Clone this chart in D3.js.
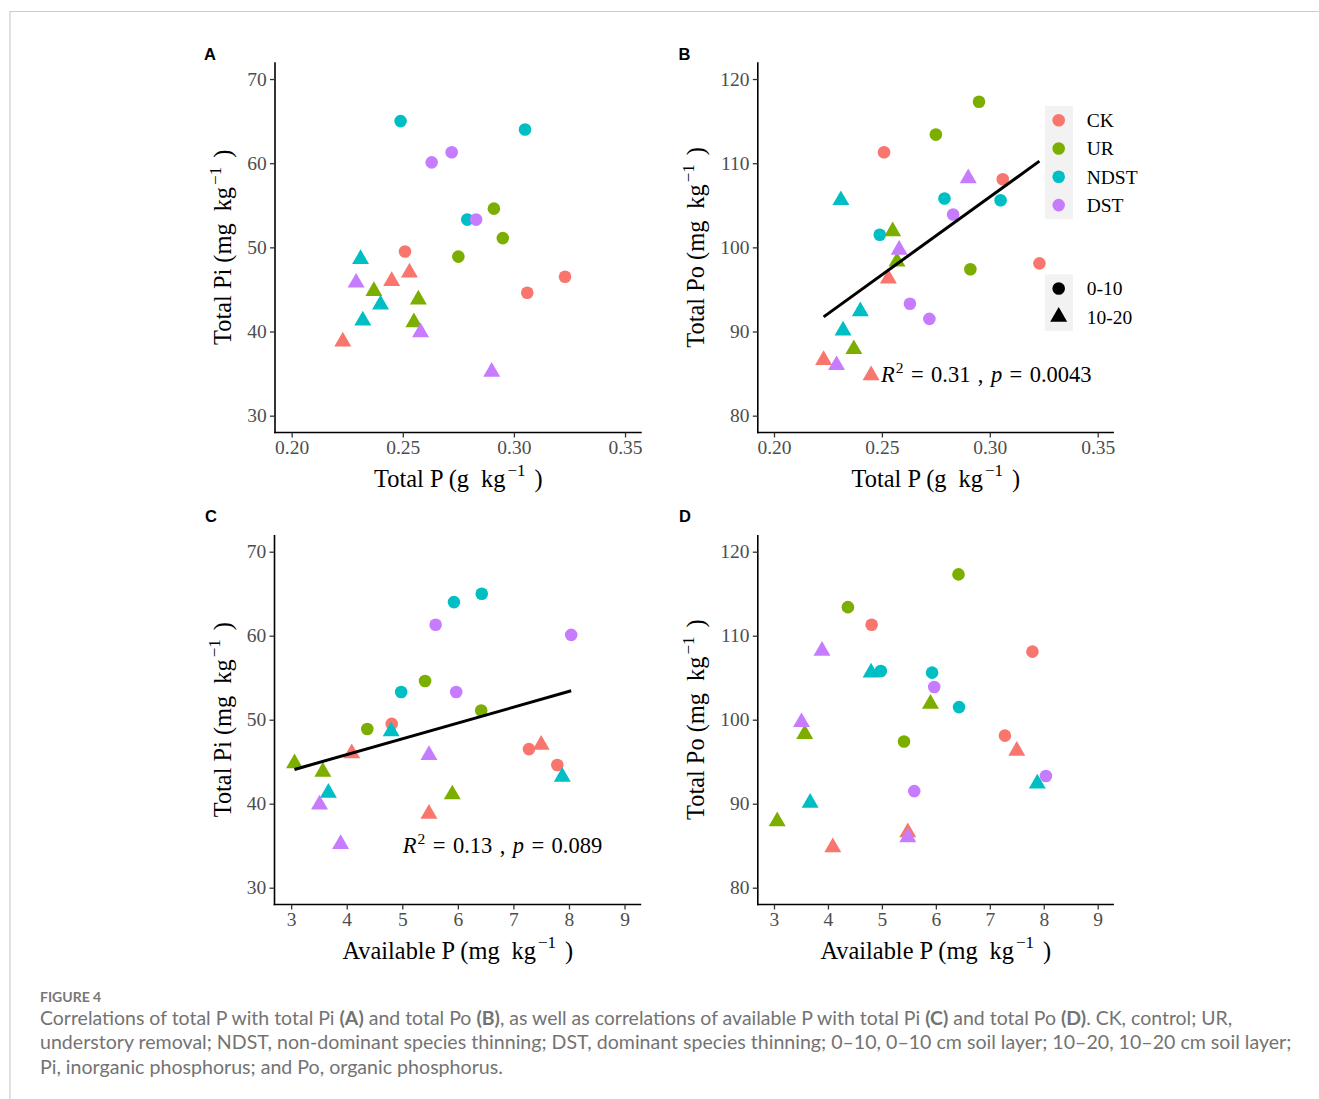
<!DOCTYPE html>
<html><head><meta charset="utf-8">
<script src="https://cdn.jsdelivr.net/npm/d3@7"></script>
<style>body{margin:0;background:#fff}svg{display:block}</style>
</head><body>
<svg id="c" width="1319" height="1099"></svg>
<script>
// ---------------- DATA ----------------
const treatments = ["CK", "UR", "NDST", "DST"];
const depths = ["0-10", "10-20"];
const sampleTreatment = ["CK","CK","CK","UR","UR","UR","NDST","NDST","NDST","DST","DST","DST",
                         "CK","CK","CK","UR","UR","UR","NDST","NDST","NDST","DST","DST","DST"];
const sampleDepth = ["0-10","0-10","0-10","0-10","0-10","0-10","0-10","0-10","0-10","0-10","0-10","0-10",
                     "10-20","10-20","10-20","10-20","10-20","10-20","10-20","10-20","10-20","10-20","10-20","10-20"];
const totalP     = [0.251,0.306,0.323, 0.275,0.291,0.295, 0.249,0.305,0.279, 0.263,0.272,0.283,
                    0.223,0.245,0.253, 0.237,0.257,0.255, 0.231,0.240,0.232, 0.229,0.258,0.290];
const availableP = [4.81,7.79,7.28, 4.37,5.41,6.42, 6.43,5.93,4.98, 8.04,5.60,5.97,
                    5.48,4.09,7.50, 3.06,3.57,5.90, 4.80,7.88,3.67, 5.48,3.51,3.89];
const totalPi    = [49.5,44.6,46.5, 48.9,54.6,51.1, 65.0,64.0,53.3, 60.1,61.3,53.3,
                    38.8,46.0,47.0, 44.8,43.8,41.1, 48.6,43.2,41.3, 45.8,39.9,35.2];
const totalPo    = [111.3,108.1,98.1, 113.4,97.4,117.3, 101.5,105.6,105.8, 93.3,91.5,103.9,
                    86.6,84.8,96.3, 87.9,98.3,101.9, 105.6,92.4,90.1, 86.0,99.7,108.2];
const tpTicks = [0.20, 0.25, 0.30, 0.35];
const tpTickLabels = ["0.20", "0.25", "0.30", "0.35"];
const apTicks = [3, 4, 5, 6, 7, 8, 9];
const apTickLabels = ["3", "4", "5", "6", "7", "8", "9"];
const piTicks = [30, 40, 50, 60, 70];
const poTicks = [80, 90, 100, 110, 120];
const statR2 = ["0.31", "0.13"];
const statP = ["0.0043", "0.089"];
const captionTitle = "FIGURE 4";

// ---------------- STYLE ----------------
const colors = {CK:"#F8766D", UR:"#7CAE00", NDST:"#00BFC4", DST:"#C77CFF"};
const SERIF = "'Liberation Serif','Times New Roman',serif";
const SANS = "'Liberation Sans',Arial,sans-serif";
const R = 6.3;
const triPath = (r) => {
  const hw = 1.347 * r, up = 1.555 * r, dn = 0.778 * r;
  return `M0,${-up}L${hw},${dn}L${-hw},${dn}Z`;
};

const svg = d3.select("#c");
svg.append("rect").attr("width",1319).attr("height",1099).attr("fill","#fff");
// frame
svg.append("path").attr("d","M10,1099V11.5H1319").attr("fill","none").attr("stroke","#cccccc").attr("stroke-width",1.2);

const panels = [
  {id:"A", xv:totalP, yv:totalPi, xDom:[0.1925,0.3575], yDom:[28,72], xt:tpTicks, xl:tpTickLabels, yt:piTicks,
   L:275, Rt:641.7, T:62.2, B:432.5, xTitle:["Total P (g","kg"], yTitle:["Total Pi (mg","kg"], lab:[204,60], fit:false},
  {id:"B", xv:totalP, yv:totalPo, xDom:[0.1925,0.3575], yDom:[78,122], xt:tpTicks, xl:tpTickLabels, yt:poTicks,
   L:757.8, Rt:1113.9, T:62.2, B:432.5, xTitle:["Total P (g","kg"], yTitle:["Total Po (mg","kg"], lab:[678.5,59.5], fit:true, statIdx:0, statPos:[0.2496,84.0]},
  {id:"C", xv:availableP, yv:totalPi, xDom:[2.7,9.3], yDom:[28,72], xt:apTicks, xl:apTickLabels, yt:piTicks,
   L:274.5, Rt:641.2, T:534.9, B:904.5, xTitle:["Available P (mg","kg"], yTitle:["Total Pi (mg","kg"], lab:[205,521.5], fit:true, statIdx:1, statPos:[5.01,34.17]},
  {id:"D", xv:availableP, yv:totalPo, xDom:[2.7,9.3], yDom:[78,122], xt:apTicks, xl:apTickLabels, yt:poTicks,
   L:757.8, Rt:1113.9, T:534.9, B:904.5, xTitle:["Available P (mg","kg"], yTitle:["Total Po (mg","kg"], lab:[679,521.5], fit:false}
];

function supTitle(sel, parts) {
  sel.append("tspan").text(parts[0]);
  sel.append("tspan").attr("dx","12").text(parts[1]);
  sel.append("tspan").attr("font-size","17px").attr("dx","2").attr("dy","-10.5").text("\u22121");
  sel.append("tspan").attr("dx","9").attr("dy","10.5").text(")");
}

panels.forEach(p => {
  const x = d3.scaleLinear().domain(p.xDom).range([p.L, p.Rt]);
  const y = d3.scaleLinear().domain(p.yDom).range([p.B, p.T]);
  const g = svg.append("g");

  // axes
  const xa = g.append("g").attr("transform",`translate(0,${p.B})`)
    .call(d3.axisBottom(x).tickValues(p.xt).tickFormat((d,i)=>p.xl[i]).tickSize(5).tickSizeOuter(0).tickPadding(3));
  const ya = g.append("g").attr("transform",`translate(${p.L},0)`)
    .call(d3.axisLeft(y).tickValues(p.yt).tickFormat(d3.format("d")).tickSize(5).tickSizeOuter(0).tickPadding(3.3));
  [xa, ya].forEach(a => {
    a.select(".domain").attr("stroke","#000").attr("stroke-width",1.6);
    a.selectAll(".tick line").attr("stroke","#333").attr("stroke-width",1.3);
    a.selectAll(".tick text").attr("fill","#4d4d4d").style("font-family",SERIF).style("font-size","19.5px");
  });
  xa.select(".domain").attr("d",`M${p.L-0.8},0H${p.Rt}`);
  ya.select(".domain").attr("d",`M0,${p.T}V${p.B+0.8}`);

  let maxW = 0;
  ya.selectAll(".tick text").each(function(){ maxW = Math.max(maxW, this.getComputedTextLength()); });

  // axis titles
  const xt = g.append("text").attr("x",(p.L+p.Rt)/2).attr("y",p.B+54.4).attr("text-anchor","middle")
    .style("font-family",SERIF).style("font-size","24.4px").attr("fill","#000");
  supTitle(xt, p.xTitle);
  const tx = p.L - 8.3 - maxW - 16.2;
  const yt = g.append("text").attr("transform",`translate(${tx},${(p.T+p.B)/2}) rotate(-90)`).attr("text-anchor","middle")
    .style("font-family",SERIF).style("font-size","24.4px").attr("fill","#000");
  supTitle(yt, p.yTitle);

  // panel letter
  svg.append("text").attr("x",p.lab[0]).attr("y",p.lab[1]).text(p.id)
    .style("font-family",SANS).style("font-weight","bold").style("font-size","16.5px").attr("fill","#000");

  // points
  const idx = d3.range(totalP.length);
  g.selectAll("path.pt").data(idx).join("path").attr("class","pt")
    .attr("transform", i => `translate(${x(p.xv[i])},${y(p.yv[i])})`)
    .attr("d", i => sampleDepth[i] === depths[0] ? d3.arc()({innerRadius:0,outerRadius:R,startAngle:0,endAngle:2*Math.PI}) : triPath(R))
    .attr("fill", i => colors[sampleTreatment[i]]);

  // regression (least squares from the data)
  if (p.fit) {
    const mx = d3.mean(p.xv), my = d3.mean(p.yv);
    let sxy = 0, sxx = 0;
    idx.forEach(i => { sxy += (p.xv[i]-mx)*(p.yv[i]-my); sxx += (p.xv[i]-mx)**2; });
    const b = sxy/sxx, a = my - b*mx;
    const [x0, x1] = d3.extent(p.xv);
    g.append("line").attr("x1",x(x0)).attr("y1",y(a+b*x0)).attr("x2",x(x1)).attr("y2",y(a+b*x1))
      .attr("stroke","#000").attr("stroke-width",3);
    const st = g.append("text").attr("x",x(p.statPos[0])).attr("y",y(p.statPos[1]))
      .style("font-family",SERIF).style("font-size","22.5px").style("word-spacing","1.8px").attr("fill","#000").attr("xml:space","preserve");
    st.append("tspan").attr("font-style","italic").text("R");
    st.append("tspan").attr("font-size","15.5px").attr("dx","1").attr("dy","-9").text("2");
    st.append("tspan").attr("dy","9").text(" = " + statR2[p.statIdx] + " , ");
    st.append("tspan").attr("font-style","italic").text("p");
    st.append("tspan").text(" = " + statP[p.statIdx]);
  }
});

// legend
const lg = svg.append("g");
const kx = 1058.7;
lg.append("rect").attr("x",1045).attr("y",106).attr("width",28).attr("height",113.2).attr("fill","#f2f2f2");
treatments.forEach((t,i) => {
  const cy = 120.2 + i*28.3;
  lg.append("circle").attr("cx",kx).attr("cy",cy).attr("r",R).attr("fill",colors[t]);
  lg.append("text").attr("x",1086.7).attr("y",cy).attr("dy","0.35em").text(t)
    .style("font-family",SERIF).style("font-size","19.5px").attr("fill","#000");
});
lg.append("rect").attr("x",1045).attr("y",274.3).attr("width",28).attr("height",56.6).attr("fill","#f2f2f2");
depths.forEach((d,i) => {
  const cy = 288.5 + i*28.3;
  if (i === 0) lg.append("circle").attr("cx",kx).attr("cy",cy).attr("r",R).attr("fill","#000");
  else lg.append("path").attr("transform",`translate(${kx},${cy})`).attr("d",triPath(R)).attr("fill","#000");
  lg.append("text").attr("x",1086.7).attr("y",cy).attr("dy","0.35em").text(d)
    .style("font-family",SERIF).style("font-size","19.5px").attr("fill","#000");
});

// caption
const CAP = "Lato,'Open Sans',sans-serif";
svg.append("text").attr("x",40).attr("y",1002).text(captionTitle)
  .style("font-family",CAP).style("font-weight","bold").style("font-size","14px").attr("fill","#777");
const capLines = [
  [["Correlations of total P with total Pi ",0],["(A)",1],[" and total Po ",0],["(B)",1],[", as well as correlations of available P with total Pi ",0],["(C)",1],[" and total Po ",0],["(D)",1],[". CK, control; UR,",0]],
  [["understory removal; NDST, non-dominant species thinning; DST, dominant species thinning; 0\u201310, 0\u201310 cm soil layer; 10\u201320, 10\u201320 cm soil layer;",0]],
  [["Pi, inorganic phosphorus; and Po, organic phosphorus.",0]]
];
const capTargets = [1193, 1252, 463];
capLines.forEach((line,li) => {
  const t = svg.append("text").attr("x",40).attr("y",1025 + li*24.4)
    .style("font-family",CAP).style("font-size","17px").attr("fill","#737373").attr("xml:space","preserve");
  line.forEach(([s,b]) => t.append("tspan").attr("font-weight", b ? "bold" : "normal").text(s));
  const w = t.node().getComputedTextLength();
  t.style("font-size", (17 * capTargets[li] / w).toFixed(2) + "px");
});
</script>
</body></html>
